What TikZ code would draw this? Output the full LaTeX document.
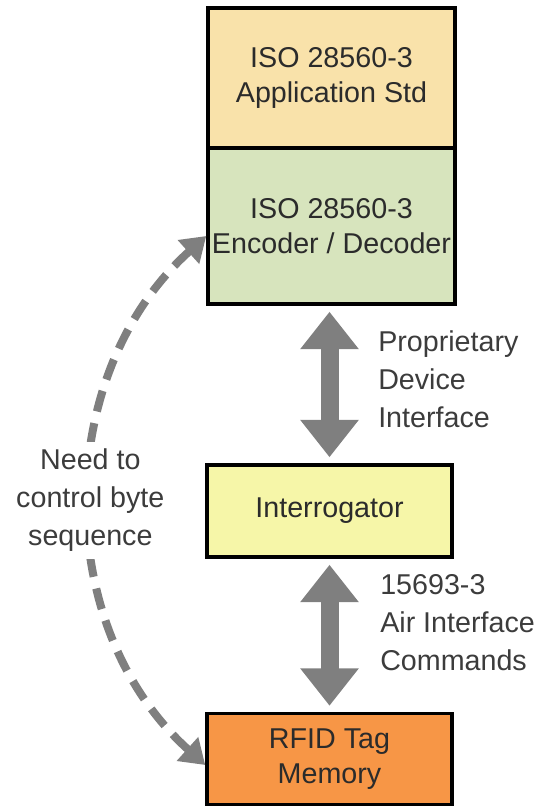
\documentclass[tikz,border=0pt]{standalone}
\usepackage{fontspec}
\setmainfont{Liberation Sans}
\usetikzlibrary{arrows.meta}
\definecolor{apptan}{HTML}{F9E2AA}
\definecolor{encgreen}{HTML}{D7E4BD}
\definecolor{intyellow}{HTML}{F6F6A8}
\definecolor{tagorange}{HTML}{F79646}
\definecolor{linkgray}{HTML}{7F7F7F}
\definecolor{boxtext}{HTML}{2B2B2B}
\definecolor{notetext}{HTML}{3C3C3C}
\begin{document}
\begin{tikzpicture}[x=0.75pt,y=-0.75pt,
  box/.style={draw=black, line width=2.6pt, minimum width=185.25pt,
    text=boxtext, align=center, inner sep=0pt,
    font=\fontsize{21.5}{26.5}\selectfont},
  note/.style={text=notetext, inner sep=0pt,
    font=\fontsize{21.5}{28.5}\selectfont},
  blockarrow/.style={linkgray, line width=13.5pt,
    {Triangle[width=42pt,length=28pt]}-{Triangle[width=42pt,length=28pt]},
    shorten <=4.5pt, shorten >=4.5pt},
  dasharrow/.style={linkgray, line width=6pt, dash pattern=on 16pt off 9pt,
    {Triangle[width=23pt,length=18pt]}-{Triangle[width=23pt,length=18pt]}}
]
\useasboundingbox (0,0) rectangle (543,807);

% protocol stack boxes
\node[box, fill=apptan, minimum height=105pt] (app) at (331.5,78)
  {ISO 28560-3\\Application Std};
\node[box, fill=encgreen, minimum height=117pt] (enc) at (331.5,226)
  {ISO 28560-3\\Encoder / Decoder};
\node[box, fill=intyellow, minimum height=69pt, minimum width=183.75pt] (intr) at (329.5,511)
  {Interrogator};
\node[box, fill=tagorange, minimum height=68.25pt, minimum width=183.75pt] (rfid) at (329.5,759)
  {RFID Tag\\Memory};

% interfaces between the layers
\draw[blockarrow] (intr.north |- enc.south) -- (intr.north);
\draw[blockarrow] (intr.south) -- (rfid.north);
\node[note, anchor=west, align=left] (pdi) at (378,379)
  {Proprietary\\Device\\Interface};
\node[note, anchor=west, align=left] (air) at (380,623)
  {15693-3\\Air Interface\\Commands};

% end-to-end requirement
\draw[dasharrow] ([yshift=-7.5pt]enc.west) to[out=222,in=138]
  node[note, fill=white, align=center, inner sep=5pt] (need)
  {Need to\\control byte\\sequence}
  ([yshift=-4.5pt]rfid.west);
\end{tikzpicture}
\end{document}
